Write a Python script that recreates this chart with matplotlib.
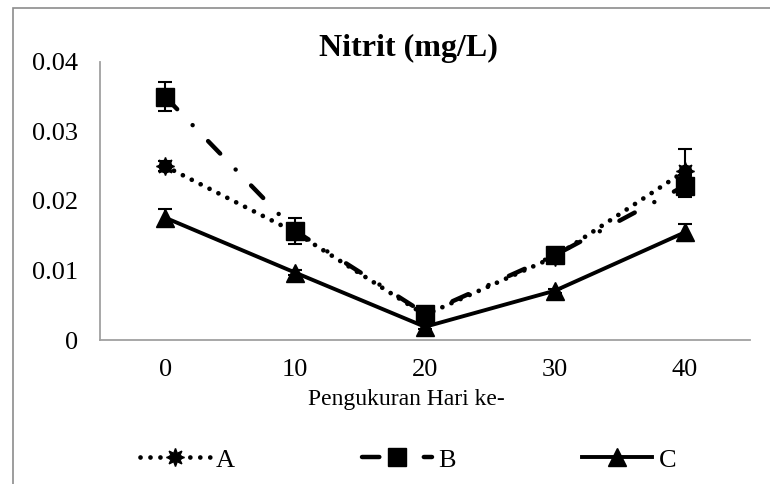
import matplotlib
matplotlib.use("Agg")
import matplotlib.pyplot as plt
from matplotlib.patches import Rectangle
import numpy as np

plt.rcParams['font.family'] = ['Liberation Serif', 'DejaVu Serif']

# nitrite readings per measurement day
days = ['0', '10', '20', '30', '40']
nitrit_a = [0.025, 0.0155, 0.0036, 0.012, 0.0243]
nitrit_b = [0.035, 0.0157, 0.0038, 0.0122, 0.0222]
nitrit_c = [0.0176, 0.0097, 0.0019, 0.0071, 0.0155]
err_a = [0.0007, 0.0005, 0.0004, 0.0005, 0.0032]
err_b = [0.0021, 0.0019, 0.0004, 0.0006, 0.0016]
err_c = [0.0012, 0.0004, 0.0003, 0.0003, 0.0012]

x = np.arange(len(days))

fig = plt.figure(figsize=(7.7, 4.84), dpi=100)
ax = fig.add_axes([0.13, 0.2975, 0.844, 0.5745])

# outer chart frame (runs past the right and bottom edges)
fig.patches.append(Rectangle((13 / 770, -0.1), 1.2, 1.1 - 8 / 484,
                             transform=fig.transFigure, fill=False,
                             edgecolor='#8c8c8c', linewidth=1.2))

ebar = dict(fmt='none', ecolor='black', elinewidth=1.5, capsize=4.7, capthick=1.5, zorder=2)

la, = ax.plot(x, nitrit_a, color='black', linewidth=3.4, linestyle=(0, (0.01, 2.1)),
              dash_capstyle='round', marker=(8, 1, 0), markersize=13, label='A', zorder=3)
ax.plot(x, nitrit_a, linestyle='none', marker='o', markersize=9, color='black', zorder=3)
ax.errorbar(x, nitrit_a, yerr=err_a, **ebar)

lb, = ax.plot(x, nitrit_b, color='black', linewidth=3.2,
              linestyle=(0, (3.9, 5.0, 0.01, 5.0)), dash_capstyle='round',
              marker='s', markersize=13, label='B', zorder=4)
ax.errorbar(x, nitrit_b, yerr=err_b, **ebar)

lc, = ax.plot(x, nitrit_c, color='black', linewidth=2.8, linestyle='-',
              marker='^', markersize=13, label='C', zorder=5)
ax.errorbar(x, nitrit_c, yerr=err_c, **ebar)

ax.set_xlim(-0.5, 4.5)
ax.set_ylim(0, 0.04)
ax.set_xticks(x)
ax.set_xticklabels(days)
ax.set_yticks([0, 0.01, 0.02, 0.03, 0.04])
ax.set_yticklabels(['0', '0.01', '0.02', '0.03', '0.04'])
ax.tick_params(length=0, labelsize=19)
ax.tick_params(axis='y', pad=16)
ax.tick_params(axis='x', pad=14)

for s in ['top', 'right']:
    ax.spines[s].set_visible(False)
for s in ['left', 'bottom']:
    ax.spines[s].set_color('#a0a0a0')
    ax.spines[s].set_linewidth(1.3)

fig.text(0.528, 1 - 399 / 484, 'Pengukuran Hari ke-', ha='center', va='center', fontsize=17)
fig.text(0.53, 1 - 48 / 484, 'Nitrit (mg/L)', ha='center', va='center',
         fontsize=23, fontweight='bold')

fig.legend(handles=[la, lb, lc], loc='center', bbox_to_anchor=(0.53, 0.05),
           ncol=3, frameon=False, fontsize=19, handlelength=2.65,
           columnspacing=4.8, handletextpad=0.25)

fig.savefig('out.png', dpi=100)
